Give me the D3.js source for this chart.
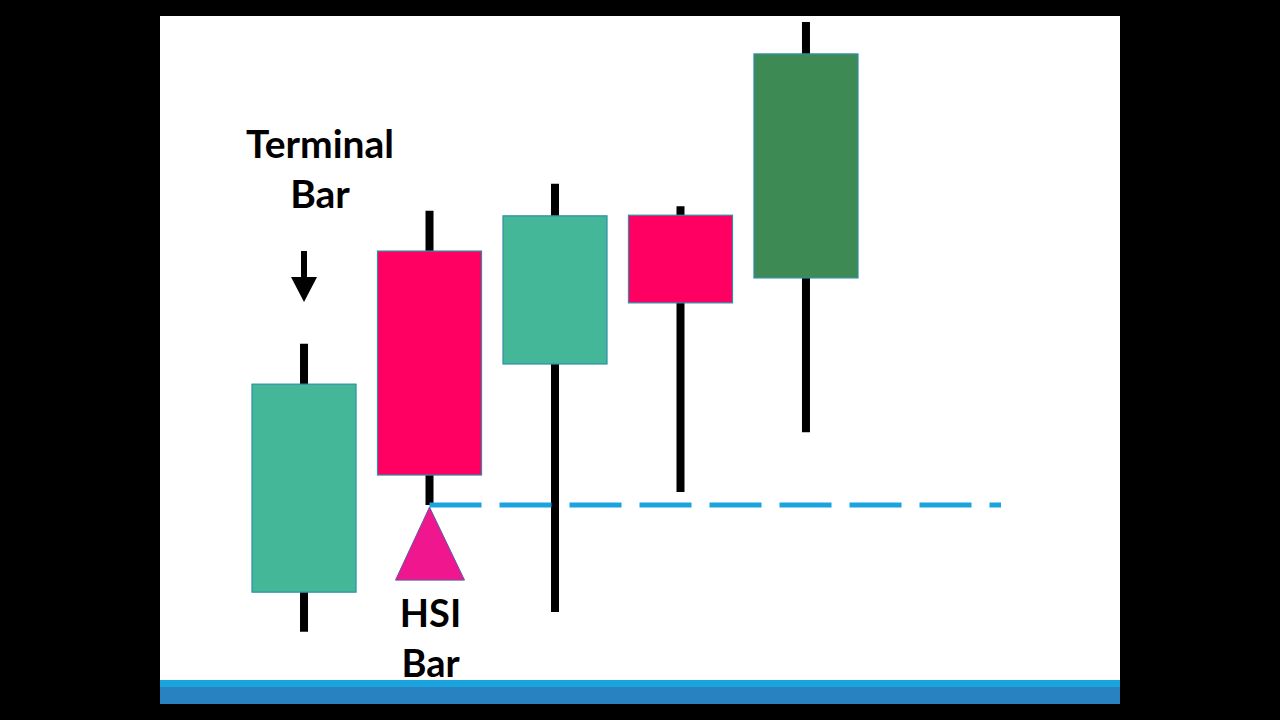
<!DOCTYPE html>
<html><head><meta charset="utf-8">
<script src="https://cdn.jsdelivr.net/npm/d3@7"></script>
<style>html,body{margin:0;padding:0;background:#000;overflow:hidden}</style>
</head><body>
<svg id="c" width="1280" height="720"></svg>
<script>
const categories = ["Terminal", "HSI", "C3", "C4", "C5"];
const opens  = [10.6, 63.9, 46.25, 69.5, 59.7];
const closes = [43.1, 28.9, 69.4, 55.8, 94.7];
const highs  = [49.4, 70.2, 74.4, 70.9, 99.7];
const lows   = [4.4, 24.2, 7.5, 26.25, 35.6];
const fills  = ["#43B797", "#FF0062", "#43B797", "#FF0062", "#3D8A55"];
const hsiIndex = 1;

const svg = d3.select("#c");
svg.append("rect").attr("x",0).attr("y",0).attr("width",1280).attr("height",720).attr("fill","#000");
svg.append("rect").attr("x",160).attr("y",16).attr("width",960).attr("height",688).attr("fill","#fff");
svg.append("rect").attr("x",160).attr("y",680).attr("width",960).attr("height",8).attr("fill","#1BA3DD");
svg.append("rect").attr("x",160).attr("y",687).attr("width",960).attr("height",17).attr("fill","#2882C2");

const x = d3.scaleBand().domain(categories).range([252, 858]).paddingInner(0.171).paddingOuter(0);
const y = d3.scaleLinear().domain([0, 100]).range([660, 20]);

const data = categories.map((c,i)=>({c, o:opens[i], cl:closes[i], h:highs[i], l:lows[i], f:fills[i]}));

const g = svg.append("g");
g.selectAll("line.wick").data(data).enter().append("line")
  .attr("x1", d=>x(d.c)+x.bandwidth()/2).attr("x2", d=>x(d.c)+x.bandwidth()/2)
  .attr("y1", d=>y(d.h)).attr("y2", d=>y(d.l))
  .attr("stroke","#000").attr("stroke-width",8);
g.selectAll("rect.body").data(data).enter().append("rect")
  .attr("x", d=>x(d.c)).attr("width", x.bandwidth())
  .attr("y", d=>y(Math.max(d.o,d.cl))).attr("height", d=>Math.abs(y(d.o)-y(d.cl)))
  .attr("fill", d=>d.f).attr("stroke","#2F8FA8").attr("stroke-width",1.2);

const hsi = data[hsiIndex];
const cx = x(hsi.c)+x.bandwidth()/2;
svg.append("line").attr("x1", cx).attr("x2", 1001).attr("y1", y(hsi.l)).attr("y2", y(hsi.l))
  .attr("stroke","#1BA3DD").attr("stroke-width",5).attr("stroke-dasharray","52 18");

const ty = y(hsi.l)+2;
svg.append("path").attr("d", `M${cx},${ty} L${cx+35},${ty+73} L${cx-34},${ty+73} Z`)
  .attr("fill","#F0168D").attr("stroke","#5A5AA8").attr("stroke-width",1);

const fs = "Lato, 'Open Sans', sans-serif";
svg.append("text").attr("x", 320).attr("y", 158).attr("text-anchor","middle")
  .attr("font-family",fs).attr("font-weight","bold").attr("font-size",39).text("Terminal");
svg.append("text").attr("x", 320).attr("y", 208).attr("text-anchor","middle")
  .attr("font-family",fs).attr("font-weight","bold").attr("font-size",39).text("Bar");
svg.append("text").attr("x", cx+1).attr("y", 627).attr("text-anchor","middle")
  .attr("font-family",fs).attr("font-weight","bold").attr("font-size",38).text("HSI");
svg.append("text").attr("x", cx+1).attr("y", 677).attr("text-anchor","middle")
  .attr("font-family",fs).attr("font-weight","bold").attr("font-size",38).text("Bar");

const ax = x(data[0].c)+x.bandwidth()/2;
svg.append("line").attr("x1",ax).attr("x2",ax).attr("y1",251).attr("y2",280).attr("stroke","#000").attr("stroke-width",6);
svg.append("path").attr("d",`M${ax-13},277 L${ax+13},277 L${ax},302 Z`).attr("fill","#000");
</script>
</body></html>
